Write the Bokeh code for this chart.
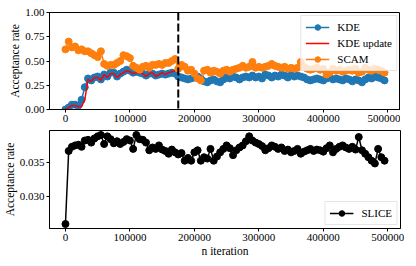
from bokeh.plotting import figure
from bokeh.layouts import column
from bokeh.models import Span, Legend, LegendItem, FixedTicker, Range1d, NumeralTickFormatter
from bokeh.embed import file_html
from bokeh.resources import INLINE

# ---------------- data ----------------
iterations = list(range(0, 500000, 5000))

kde = [0.00, 0.02, 0.05, 0.05, 0.04, 0.10, 0.23, 0.32, 0.30, 0.33,
       0.34, 0.31, 0.36, 0.34, 0.38, 0.38, 0.34, 0.37, 0.39, 0.41,
       0.40, 0.38, 0.39, 0.38, 0.37, 0.35, 0.37, 0.37, 0.35, 0.36,
       0.37, 0.36, 0.37, 0.38, 0.37, 0.34, 0.33, 0.32, 0.31, 0.32,
       0.33, 0.34, 0.32, 0.29, 0.28, 0.30, 0.31, 0.29, 0.28, 0.31,
       0.33, 0.32, 0.34, 0.33, 0.31, 0.33, 0.34, 0.33, 0.35, 0.33,
       0.34, 0.32, 0.36, 0.35, 0.33, 0.35, 0.34, 0.36, 0.35, 0.33,
       0.36, 0.34, 0.35, 0.34, 0.33, 0.31, 0.30, 0.31, 0.32, 0.31,
       0.30, 0.32, 0.33, 0.31, 0.32, 0.31, 0.30, 0.32, 0.31, 0.29,
       0.31, 0.30, 0.28, 0.31, 0.33, 0.32, 0.34, 0.33, 0.32, 0.30]

kde_update = [0.00, 0.02, 0.04, 0.04, 0.03, 0.03, 0.10, 0.31, 0.29, 0.33,
              0.33, 0.30, 0.36, 0.33, 0.37, 0.37, 0.33, 0.36, 0.38, 0.40,
              0.39, 0.37, 0.38, 0.38, 0.37, 0.34, 0.37, 0.38, 0.34, 0.36,
              0.38, 0.36, 0.38, 0.39, 0.40, 0.38]

scam = [0.62, 0.70, 0.64, 0.65, 0.61, 0.62, 0.60, 0.60, 0.58, 0.56,
        0.54, 0.60, 0.47, 0.45, 0.46, 0.46, 0.48, 0.50, 0.56, 0.55,
        0.53, 0.45, 0.43, 0.41, 0.44, 0.45, 0.43, 0.46, 0.46, 0.47,
        0.46, 0.48, 0.48, 0.50, 0.52, 0.42, 0.46, 0.44, 0.40, 0.41,
        0.37, 0.32, 0.30, 0.40, 0.41, 0.38, 0.40, 0.39, 0.37, 0.40,
        0.41, 0.39, 0.41, 0.42, 0.43, 0.45, 0.43, 0.44, 0.49, 0.43,
        0.44, 0.43, 0.44, 0.45, 0.47, 0.45, 0.44, 0.43, 0.44, 0.42,
        0.43, 0.42, 0.43, 0.49, 0.44, 0.42, 0.41, 0.42, 0.43, 0.41,
        0.42, 0.36, 0.38, 0.42, 0.40, 0.41, 0.39, 0.40, 0.41, 0.40,
        0.42, 0.38, 0.39, 0.43, 0.41, 0.40, 0.42, 0.41, 0.40, 0.38]

slice_rate = [0.0261, 0.0366, 0.0372, 0.0374, 0.0375, 0.0372, 0.0381, 0.0382, 0.0378, 0.0384,
              0.0387, 0.0389, 0.0376, 0.0387, 0.0383, 0.0377, 0.0380, 0.0376, 0.0379, 0.0383,
              0.0381, 0.0369, 0.0389, 0.0383, 0.0382, 0.0378, 0.0367, 0.0371, 0.0369, 0.0374,
              0.0368, 0.0366, 0.0362, 0.0368, 0.0364, 0.0361, 0.0363, 0.0352, 0.0356, 0.0352,
              0.0364, 0.0367, 0.0352, 0.0357, 0.0355, 0.0369, 0.0352, 0.0358, 0.0364, 0.0369,
              0.0374, 0.0370, 0.0360, 0.0367, 0.0371, 0.0374, 0.0380, 0.0387, 0.0381, 0.0378,
              0.0376, 0.0373, 0.0367, 0.0370, 0.0374, 0.0372, 0.0369, 0.0371, 0.0366, 0.0368,
              0.0364, 0.0366, 0.0369, 0.0362, 0.0365, 0.0367, 0.0369, 0.0366, 0.0368, 0.0367,
              0.0365, 0.0370, 0.0374, 0.0364, 0.0369, 0.0372, 0.0374, 0.0371, 0.0369, 0.0372,
              0.0368, 0.0386, 0.0367, 0.0362, 0.0357, 0.0352, 0.0348, 0.0369, 0.0357, 0.0352]

update_iterations = iterations[:len(kde_update)]
kde_stop = 175000

x_ticks = [0, 100000, 200000, 300000, 400000, 500000]
top_y_ticks = [0.0, 0.25, 0.5, 0.75, 1.0]
bottom_y_ticks = [0.030, 0.035]

# ---------------- style ----------------
FONT = "'Liberation Serif'"
BLUE = "#1f77b4"
ORANGE = "#ff7f0e"
RED = "#ff0000"
MS = 7
LW = 1.5


def make_fig(frame_h, y_range, b_top, b_bottom):
    p = figure(frame_width=351, frame_height=frame_h,
               x_range=Range1d(-24750, 519750), y_range=y_range,
               output_backend="svg", toolbar_location=None,
               min_border_left=45, min_border_right=4,
               min_border_top=b_top, min_border_bottom=b_bottom)
    p.grid.visible = False
    p.outline_line_color = "black"
    p.outline_line_width = 1
    p.outline_line_alpha = 1
    for ax in (p.xaxis[0], p.yaxis[0]):
        ax.major_label_text_font = FONT
        ax.major_label_text_font_size = "11px"
        ax.major_label_text_color = "black"
        ax.axis_label_text_font = FONT
        ax.axis_label_text_font_size = "11.5px"
        ax.axis_label_text_font_style = "normal"
        ax.axis_label_text_color = "black"
        ax.axis_line_color = "black"
        ax.major_tick_line_color = "black"
        ax.major_tick_out = 3
        ax.major_tick_in = 0
        ax.minor_tick_line_color = None
        ax.major_label_standoff = 2
        ax.axis_label_standoff = 1
    p.xaxis.ticker = FixedTicker(ticks=x_ticks)
    p.xaxis.formatter = NumeralTickFormatter(format="0")
    return p


# ---------------- top panel ----------------
p1 = make_fig(97, Range1d(0, 1), 12, 20)
p1.yaxis.ticker = FixedTicker(ticks=top_y_ticks)
p1.yaxis.formatter = NumeralTickFormatter(format="0.00")
p1.yaxis.axis_label = "Acceptance rate"

l_kde = p1.line(iterations, kde, color=BLUE, line_width=LW)
s_kde = p1.scatter(iterations, kde, size=MS, color=BLUE)
l_upd = p1.line(update_iterations, kde_update, color=RED, line_width=LW)
l_scam = p1.line(iterations, scam, color=ORANGE, line_width=LW)
s_scam = p1.scatter(iterations, scam, size=MS, color=ORANGE)

p1.add_layout(Span(location=kde_stop, dimension="height", line_color="black",
                   line_dash="8 3", line_width=2))

leg1 = Legend(items=[LegendItem(label="KDE", renderers=[l_kde, s_kde]),
                     LegendItem(label="KDE update", renderers=[l_upd]),
                     LegendItem(label="SCAM", renderers=[l_scam, s_scam])],
              location="top_right")
p1.add_layout(leg1)

# ---------------- bottom panel ----------------
p2 = make_fig(98, Range1d(0.02546, 0.03954), 1, 30)
p2.yaxis.ticker = FixedTicker(ticks=bottom_y_ticks)
p2.yaxis.formatter = NumeralTickFormatter(format="0.000")
p2.yaxis.axis_label = "Acceptance rate"
p2.xaxis.axis_label = "n iteration"

l_sl = p2.line(iterations, slice_rate, color="black", line_width=LW)
s_sl = p2.scatter(iterations, slice_rate, size=MS, color="black")
leg2 = Legend(items=[LegendItem(label="SLICE", renderers=[l_sl, s_sl])],
              location="bottom_right")
p2.add_layout(leg2)

for leg in (leg1, leg2):
    leg.label_text_font = FONT
    leg.label_text_font_size = "11px"
    leg.label_text_color = "black"
    leg.border_line_color = "#cccccc"
    leg.border_line_width = 1
    leg.background_fill_alpha = 0.8
    leg.glyph_width = 24
    leg.glyph_height = 14
    leg.label_height = 14
    leg.label_standoff = 8
    leg.spacing = 2
    leg.padding = 4
    leg.margin = 3

layout = column(p1, p2, spacing=0)
open("out.html", "w").write(file_html(layout, INLINE))
